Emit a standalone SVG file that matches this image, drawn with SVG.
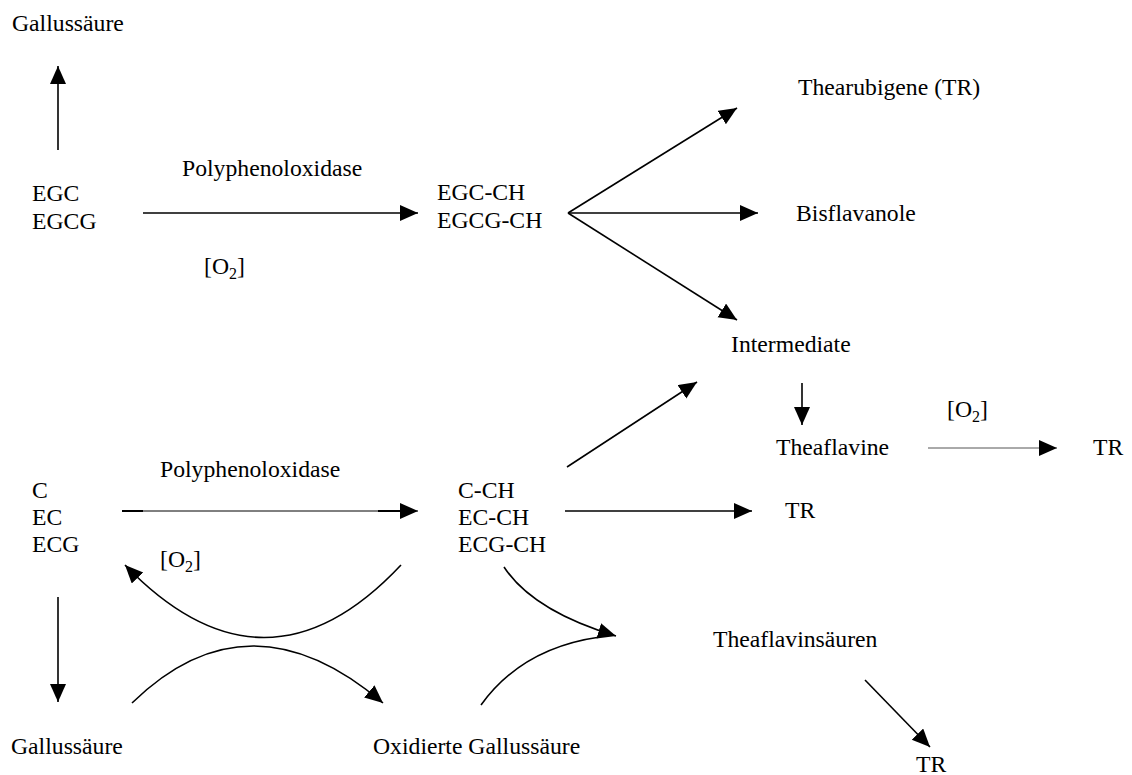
<svg xmlns="http://www.w3.org/2000/svg" width="1132" height="775" viewBox="0 0 1132 775">
  <style>
    text { font-family: "Liberation Serif", "Times New Roman", serif; font-size: 23.7px; fill: #000; }
    .ln { stroke: #000; stroke-width: 1.6; fill: none; }
    .thin { stroke: #555; stroke-width: 1; fill: none; }
    .sub { font-size: 16px; }
  </style>
  <defs>
    <marker id="ah" markerUnits="userSpaceOnUse" markerWidth="20" markerHeight="18" refX="18" refY="8" orient="auto">
      <path d="M0,0 L18,8 L0,16 z" fill="#000"/>
    </marker>
  </defs>

  <!-- upper pathway: EGC / EGCG -->
  <g id="n-gallus-top"><text x="12" y="31">Gallussäure</text></g>
  <g id="n-egc"><text x="32" y="201">EGC</text><text x="32" y="229">EGCG</text></g>
  <g id="n-ppo-top"><text x="182" y="176">Polyphenoloxidase</text></g>
  <g id="n-o2-top"><text x="204" y="274">[O<tspan class="sub" dy="5">2</tspan><tspan dy="-5">]</tspan></text></g>
  <g id="n-egc-ch"><text x="437" y="200">EGC-CH</text><text x="437" y="228">EGCG-CH</text></g>
  <g id="n-thearubigene"><text x="798" y="95">Thearubigene (TR)</text></g>
  <g id="n-bisflavanole"><text x="796" y="221">Bisflavanole</text></g>
  <g id="n-intermediate"><text x="731" y="352">Intermediate</text></g>
  <g id="n-theaflavine"><text x="776" y="455">Theaflavine</text></g>
  <g id="n-o2-right"><text x="947" y="417">[O<tspan class="sub" dy="5">2</tspan><tspan dy="-5">]</tspan></text></g>
  <g id="n-tr-right"><text x="1093" y="455">TR</text></g>

  <!-- lower pathway: C / EC / ECG -->
  <g id="n-c"><text x="32" y="498">C</text><text x="32" y="525">EC</text><text x="32" y="552">ECG</text></g>
  <g id="n-ppo-bottom"><text x="160" y="477">Polyphenoloxidase</text></g>
  <g id="n-o2-bottom"><text x="160" y="567">[O<tspan class="sub" dy="5">2</tspan><tspan dy="-5">]</tspan></text></g>
  <g id="n-c-ch"><text x="458" y="498">C-CH</text><text x="458" y="525">EC-CH</text><text x="458" y="552">ECG-CH</text></g>
  <g id="n-tr-mid"><text x="785" y="518">TR</text></g>
  <g id="n-theaflavinsaeuren"><text x="713" y="647">Theaflavinsäuren</text></g>
  <g id="n-tr-bottom"><text x="916" y="772">TR</text></g>
  <g id="n-gallus-bottom"><text x="11" y="754">Gallussäure</text></g>
  <g id="n-oxgallus"><text x="373" y="754">Oxidierte Gallussäure</text></g>

  <g id="connectors">
    <line class="ln" x1="58" y1="150" x2="58" y2="66" marker-end="url(#ah)"/>
    <line class="ln" x1="143" y1="213" x2="418" y2="213" marker-end="url(#ah)"/>
    <line class="ln" x1="568" y1="213" x2="737" y2="108" marker-end="url(#ah)"/>
    <line class="ln" x1="568" y1="213" x2="758" y2="213" marker-end="url(#ah)"/>
    <line class="ln" x1="568" y1="213" x2="737" y2="320" marker-end="url(#ah)"/>
    <line class="ln" x1="802" y1="383" x2="802" y2="425" marker-end="url(#ah)"/>
    <line class="thin" x1="928" y1="448" x2="1057" y2="448" marker-end="url(#ah)"/>
    <line class="ln" x1="567" y1="467" x2="697" y2="382" marker-end="url(#ah)"/>
    <!-- C -> C-CH: thin shaft with heavier ends -->
    <line stroke="#000" stroke-width="1" x1="122" y1="511" x2="418" y2="511" marker-end="url(#ah)"/>
    <line stroke="#000" stroke-width="2" x1="122" y1="511" x2="143" y2="511"/>
    <line stroke="#000" stroke-width="2" x1="378" y1="511" x2="402" y2="511"/>
    <line class="ln" x1="565" y1="511" x2="752" y2="511" marker-end="url(#ah)"/>
    <line class="ln" x1="58" y1="597" x2="58" y2="702" marker-end="url(#ah)"/>
    <path class="ln" d="M401,565 Q265,710 125,565" marker-end="url(#ah)"/>
    <path class="ln" d="M132,703 Q249,589 383,703" marker-end="url(#ah)"/>
    <path class="ln" d="M504,567 Q533,611 616,636" marker-end="url(#ah)"/>
    <path class="ln" d="M481,705 Q522,648 600,637"/>
    <line class="ln" x1="865" y1="680" x2="930" y2="747" marker-end="url(#ah)"/>
  </g>
</svg>
